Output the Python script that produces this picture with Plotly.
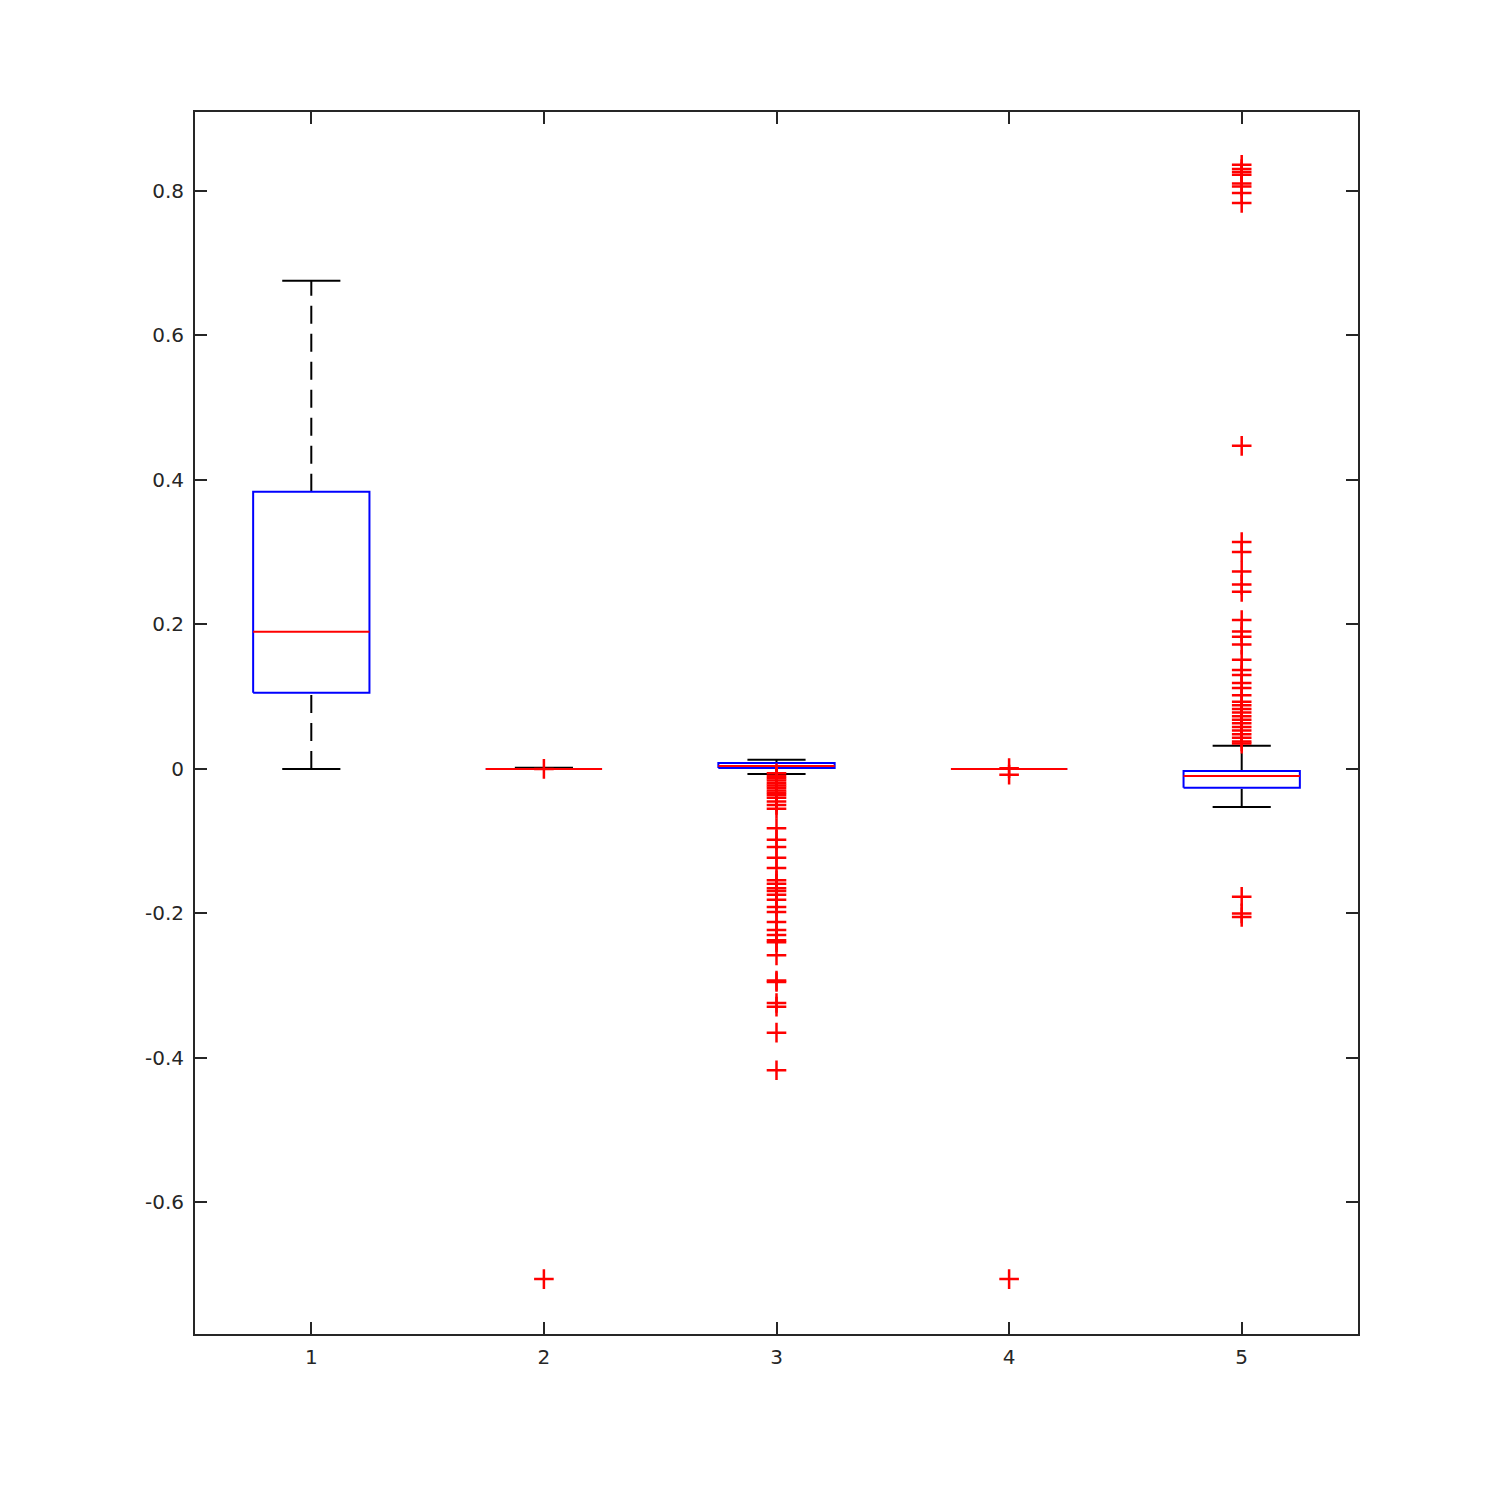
import plotly.graph_objects as go

positions = [1, 2, 3, 4, 5]
q1 = [0.1052, 0.0, 0.0014, 0.0, -0.026]
median = [0.1896, 0.0, 0.0040, 0.0, -0.0097]
q3 = [0.3834, 0.0, 0.0083, 0.0, -0.003]
lower_whisker = [0.0, 0.0, -0.007, 0.0, -0.0526]
upper_whisker = [0.6754, 0.0015, 0.0125, 0.0, 0.032]

outliers = [
    [],
    [0.0, -0.706],
    [-0.006, -0.010, -0.013, -0.016, -0.020, -0.023, -0.026, -0.030, -0.033,
     -0.036, -0.040, -0.045, -0.050, -0.055, -0.082, -0.098, -0.108, -0.123,
     -0.137, -0.154, -0.159, -0.165, -0.169, -0.174, -0.181, -0.191, -0.198,
     -0.212, -0.223, -0.230, -0.237, -0.240, -0.258, -0.293, -0.295, -0.324,
     -0.329, -0.365, -0.417],
    [0.001, -0.008, -0.706],
    [0.836, 0.830, 0.826, 0.822, 0.810, 0.806, 0.797, 0.783, 0.447, 0.314,
     0.300, 0.273, 0.255, 0.245, 0.206, 0.190, 0.183, 0.172, 0.151, 0.137,
     0.130, 0.119, 0.112, 0.102, 0.093, 0.088, 0.083, 0.078, 0.073, 0.068,
     0.063, 0.058, 0.053, 0.048, 0.043, 0.038, 0.035, -0.177, -0.200, -0.205],
]

ytick_vals = [-0.6, -0.4, -0.2, 0, 0.2, 0.4, 0.6, 0.8]
ytick_text = ["-0.6", "-0.4", "-0.2", "0", "0.2", "0.4", "0.6", "0.8"]
xtick_text = ["1", "2", "3", "4", "5"]

BOX_HW = 0.25
CAP_HW = 0.125

fig = go.Figure()
for i, p in enumerate(positions):
    # whiskers (dashed)
    fig.add_trace(go.Scatter(x=[p, p], y=[q3[i], upper_whisker[i]], mode="lines",
                             line=dict(color="black", width=2, dash="18px,10px"),
                             showlegend=False, hoverinfo="skip"))
    fig.add_trace(go.Scatter(x=[p, p], y=[lower_whisker[i], q1[i]], mode="lines",
                             line=dict(color="black", width=2, dash="18px,10px"),
                             showlegend=False, hoverinfo="skip"))
    # caps
    for v in (upper_whisker[i], lower_whisker[i]):
        fig.add_trace(go.Scatter(x=[p - CAP_HW, p + CAP_HW], y=[v, v], mode="lines",
                                 line=dict(color="black", width=2),
                                 showlegend=False, hoverinfo="skip"))
    # box
    fig.add_trace(go.Scatter(x=[p - BOX_HW, p + BOX_HW, p + BOX_HW, p - BOX_HW, p - BOX_HW],
                             y=[q1[i], q1[i], q3[i], q3[i], q1[i]], mode="lines",
                             line=dict(color="#0000ff", width=2),
                             showlegend=False, hoverinfo="skip"))
    # median
    fig.add_trace(go.Scatter(x=[p - BOX_HW, p + BOX_HW], y=[median[i], median[i]], mode="lines",
                             line=dict(color="#ff0000", width=2),
                             showlegend=False, hoverinfo="skip"))
    # outliers
    if outliers[i]:
        fig.add_trace(go.Scatter(x=[p] * len(outliers[i]), y=outliers[i], mode="markers",
                                 marker=dict(symbol="cross-thin", size=14,
                                             line=dict(color="#ff0000", width=2.5)),
                                 showlegend=False))

axis_common = dict(showline=True, linecolor="#262626", linewidth=2, mirror="ticks",
                   ticks="inside", ticklen=12, tickwidth=2, tickcolor="#262626",
                   showgrid=False, zeroline=False,
                   tickfont=dict(family="DejaVu Sans", size=20, color="#262626"))

fig.update_layout(
    width=1500, height=1500,
    margin=dict(l=187, r=150, t=104, b=174),
    plot_bgcolor="white", paper_bgcolor="white",
    xaxis=dict(range=[0.5, 5.5], tickvals=positions, ticktext=xtick_text,
               ticklabelstandoff=4, **axis_common),
    yaxis=dict(range=[-0.782, 0.909], tickvals=ytick_vals, ticktext=ytick_text,
               ticklabelstandoff=5, **axis_common),
)

fig.write_html("out.html")
